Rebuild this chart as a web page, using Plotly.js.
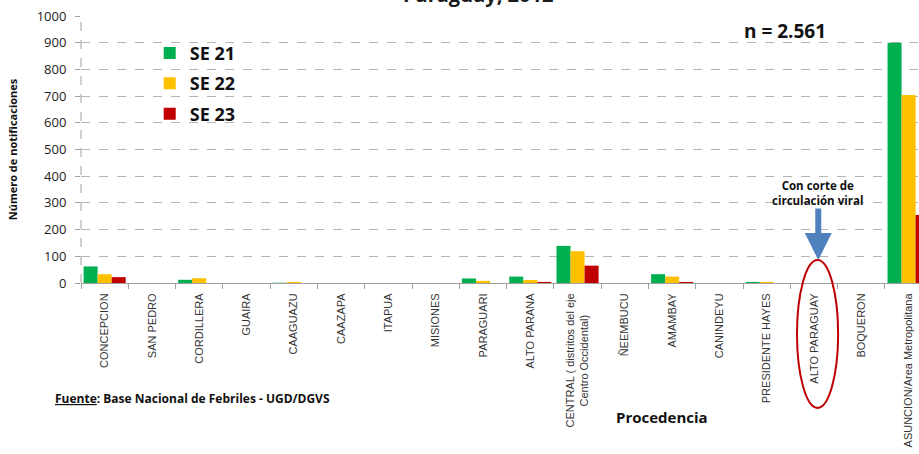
<!DOCTYPE html>
<html>
<head>
<meta charset="utf-8">
<script src="https://cdn.plot.ly/plotly-3.0.1.min.js"></script>
<style>
html,body{margin:0;padding:0;background:#fff;overflow:hidden;}
#chart{width:919px;height:454px;}
</style>
</head>
<body>
<div id="chart"></div>
<script>
const categories = ['CONCEPCION','SAN PEDRO','CORDILLERA','GUAIRA','CAAGUAZU','CAAZAPA','ITAPUA','MISIONES','PARAGUARI','ALTO PARANA','CENTRAL ( distritos del eje<br>Centro Occidental)\u00a0\u00a0\u00a0\u00a0\u00a0\u00a0\u00a0\u200b','ÑEEMBUCU','AMAMBAY','CANINDEYU','PRESIDENTE HAYES','ALTO PARAGUAY','BOQUERON','ASUNCION/Area Metropolitana'];
const se21 = [62, 0, 12, 0, 1, 0, 0, 0, 17, 24, 139, 0, 33, 0, 4, 0, 0, 900];
const se22 = [33, 0, 18, 0, 4, 0, 0, 0, 8, 11, 119, 0, 24, 0, 4, 0, 0, 704];
const se23 = [22, 0, 0, 0, 0, 0, 0, 0, 0, 4, 65, 0, 4, 0, 0, 0, 0, 255];
const seriesNames = ['SE 21','SE 22','SE 23'];
const seriesColors = ['#00b050','#ffc000','#c00000'];
const seriesValues = [se21, se22, se23];

const traces = seriesValues.map((vals, i) => ({
  type: 'bar',
  name: seriesNames[i],
  x: categories,
  y: vals,
  marker: {color: seriesColors[i], line: {width: 0}},
  legendgroup: 'g' + i
}));

const baseFont = {family: 'Open Sans, Liberation Sans, sans-serif', color: '#1a1a1a'};

const layout = {
  width: 919, height: 454,
  margin: {l: 81, r: 0, t: 16, b: 171},
  paper_bgcolor: '#ffffff', plot_bgcolor: '#ffffff',
  barmode: 'group', bargap: 0.11, bargroupgap: 0,
  font: baseFont,
  showlegend: true,
  legend: {
    x: 0.082, y: 0.93, xanchor: 'left', yanchor: 'top',
    bgcolor: 'rgba(0,0,0,0)',
    font: {family: 'Open Sans, sans-serif', size: 18, color: '#111', weight: 'bold'},
    tracegroupgap: 4, itemwidth: 30
  },
  xaxis: {
    type: 'category',
    range: [-0.5, 17.22],
    tickangle: -90,
    tickson: 'boundaries',
    ticks: 'outside', ticklen: 5, tickcolor: '#a0a0a0',
    showline: true, linecolor: '#a0a0a0', linewidth: 1,
    showgrid: false, zeroline: false,
    tickfont: {family: 'Liberation Sans, Arial, sans-serif', size: 11, color: '#333'},
    ticklabelstandoff: 5
  },
  yaxis: {
    range: [0, 1000], dtick: 100,
    showgrid: true, gridcolor: '#b4b4b4', griddash: 'dash', gridwidth: 1,
    zeroline: false, showline: false,
    ticks: 'outside', ticklen: 5, tickcolor: '#a0a0a0',
    tickfont: {family: 'Open Sans, sans-serif', size: 13, color: '#222'},
    ticklabelstandoff: 6,
    title: {text: 'Número de notificaciones', font: {family: 'Open Sans, sans-serif', size: 11, color: '#111', weight: 'bold'}, standoff: 16}
  },
  shapes: [
    {type: 'line', xref: 'paper', yref: 'paper', x0: 0, x1: 0, y0: 0, y1: 1,
     line: {color: '#a0a0a0', width: 1, dash: 'dash'}},
    {type: 'circle', xref: 'x', yref: 'paper', x0: 14.64, x1: 15.51, y0: -0.468, y1: 0.086,
     line: {color: '#c00000', width: 2}}
  ],
  annotations: [
    {xref: 'paper', yref: 'paper', x: 0.474, y: 1.079, xanchor: 'center', yanchor: 'middle',
     text: 'Paraguay, 2012', showarrow: false,
     font: {family: 'Open Sans, sans-serif', size: 20, color: '#1a1a1a', weight: 'bold'}},
    {xref: 'paper', yref: 'paper', x: 0.840, y: 0.944, xanchor: 'center', yanchor: 'middle',
     text: 'n = 2.561', showarrow: false,
     font: {family: 'Open Sans, sans-serif', size: 19, color: '#111', weight: 'bold'}},
    {xref: 'paper', yref: 'paper', x: 0.879, y: 0.337, xanchor: 'center', yanchor: 'middle',
     text: 'Con corte de<br>circulación viral', showarrow: false,
     font: {family: 'Open Sans, sans-serif', size: 11.5, color: '#111', weight: 'bold'}},
    {xref: 'x', yref: 'y', x: 15.09, y: 86, ax: 0, ay: -53, axref: 'pixel', ayref: 'pixel',
     text: '', showarrow: true, arrowhead: 2, arrowsize: 0.9, arrowwidth: 6, arrowcolor: '#4f81bd'},
    {xref: 'paper', yref: 'paper', x: -0.0334, y: -0.431, xanchor: 'left', yanchor: 'middle',
     text: '<u>Fuente</u>: Base Nacional de Febriles - UGD/DGVS', showarrow: false,
     font: {family: 'Open Sans, sans-serif', size: 12, color: '#111', weight: 'bold'}},
    {xref: 'paper', yref: 'paper', x: 0.693, y: -0.50, xanchor: 'center', yanchor: 'middle',
     text: 'Procedencia', showarrow: false,
     font: {family: 'Open Sans, sans-serif', size: 15, color: '#111', weight: 'bold'}}
  ]
};

Plotly.newPlot('chart', traces, layout, {displayModeBar: false, staticPlot: true});
</script>
</body>
</html>
